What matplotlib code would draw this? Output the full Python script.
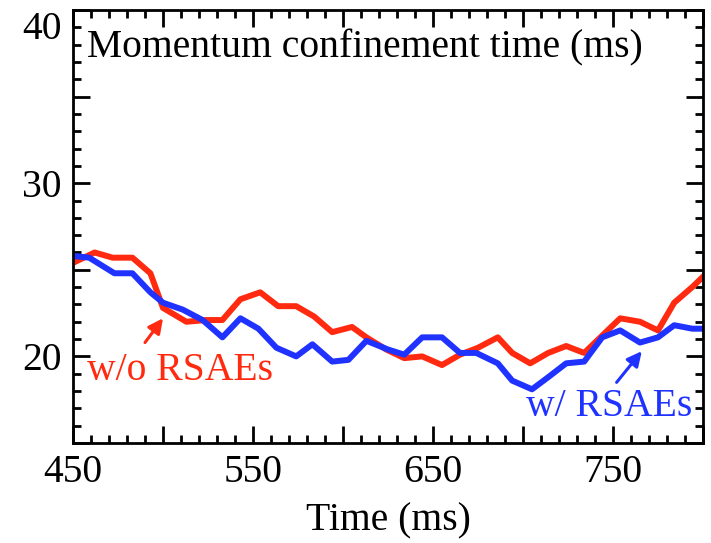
import matplotlib
matplotlib.use("Agg")
import matplotlib.pyplot as plt
import matplotlib.transforms as mtransforms
from matplotlib.ticker import MultipleLocator, FixedLocator

# momentum confinement time (ms) vs time (ms)
t_red = [450, 462, 472, 483, 493, 500, 513, 524, 533, 543, 554, 564, 574, 584,
         594, 605, 613, 624, 634, 644, 655, 665, 675, 686, 694, 704, 714, 724,
         734, 744, 754, 765, 775, 784, 794, 800]
tau_red = [25.4, 26.0, 25.7, 25.7, 24.8, 22.8, 22.0, 22.1, 22.1, 23.3, 23.7, 22.9,
           22.9, 22.3, 21.4, 21.7, 21.1, 20.4, 19.9, 20.0, 19.5, 20.1, 20.5, 21.1,
           20.2, 19.6, 20.2, 20.6, 20.2, 21.2, 22.2, 22.0, 21.5, 23.1, 24.0, 24.6]

t_blue = [450, 459, 473, 483, 493, 500, 511, 522, 533, 543, 553, 563, 574, 583,
          594, 603, 613, 625, 634, 644, 655, 665, 674, 686, 694, 705, 714, 724,
          734, 744, 754, 765, 775, 784, 794, 800]
tau_blue = [25.8, 25.7, 24.8, 24.8, 23.7, 23.1, 22.7, 22.1, 21.1, 22.2, 21.6, 20.5,
            20.0, 20.7, 19.7, 19.8, 20.9, 20.4, 20.1, 21.1, 21.1, 20.2, 20.2, 19.6,
            18.6, 18.1, 18.8, 19.6, 19.7, 21.1, 21.5, 20.8, 21.1, 21.8, 21.6, 21.6]

red = "#ff2a0f"
blue = "#1f32ff"

plt.rcParams["font.family"] = ["Liberation Serif", "DejaVu Serif"]
fs = 28.5

fig = plt.figure(figsize=(7.11, 5.43), dpi=100)
ax = fig.add_axes([73 / 711, 1 - 443 / 543, 630 / 711, 433 / 543])

ax.plot(t_red, tau_red, color=red, lw=4.3, solid_joinstyle="round")
ax.plot(t_blue, tau_blue, color=blue, lw=4.3, solid_joinstyle="round")

ax.set_xlim(450, 800)
ax.set_ylim(15, 40)

ax.xaxis.set_major_locator(FixedLocator([450, 500, 550, 600, 650, 700, 750, 800]))
ax.set_xticklabels(["450", "", "550", "", "650", "", "750", ""])
ax.xaxis.set_minor_locator(MultipleLocator(10))
ax.yaxis.set_major_locator(FixedLocator([15, 20, 25, 30, 35, 40]))
ax.set_yticklabels(["", "20", "", "30", "", "40"])
ax.yaxis.set_minor_locator(MultipleLocator(1))

ax.tick_params(axis="x", which="major", pad=8)
ax.tick_params(axis="y", which="major", pad=8)
ax.tick_params(which="major", direction="in", length=12, width=2, labelsize=fs,
               top=True, right=True)
ax.tick_params(which="minor", direction="in", length=6, width=2,
               top=True, right=True)
for s in ax.spines.values():
    s.set_linewidth(2)

# the "40" label sits a bit lower than its tick
shift = mtransforms.ScaledTranslation(0, -15 / 100, fig.dpi_scale_trans)
lab40 = ax.get_yticklabels()[-1]
lab40.set_transform(lab40.get_transform() + shift)

ax.set_xlabel("Time (ms)", fontsize=fs, labelpad=8)

ax.text(0.022, 0.955, "Momentum confinement time (ms)", transform=ax.transAxes,
        fontsize=fs, ha="left", va="top")

ax.text(458, 19.2, "w/o RSAEs", color=red, fontsize=fs, ha="left", va="center")
ax.annotate("", xy=(500, 22.2), xytext=(490, 20.8),
            arrowprops=dict(arrowstyle="-|>", color=red, lw=2.2,
                            mutation_scale=22, shrinkA=0, shrinkB=0))

ax.text(748, 17.1, "w/ RSAEs", color=blue, fontsize=fs, ha="center", va="center")
ax.annotate("", xy=(766, 20.3), xytext=(752, 18.5),
            arrowprops=dict(arrowstyle="-|>", color=blue, lw=2.2,
                            mutation_scale=22, shrinkA=0, shrinkB=0))

fig.savefig("out.png", dpi=100)
